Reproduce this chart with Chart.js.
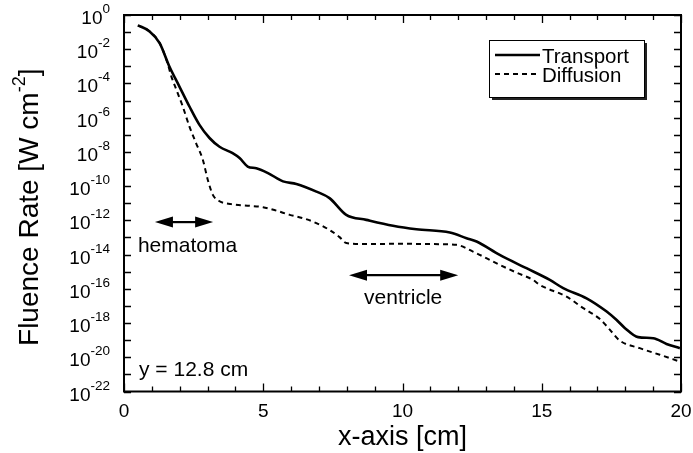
<!DOCTYPE html>
<html>
<head>
<meta charset="utf-8">
<script src="https://cdn.jsdelivr.net/npm/chart.js@4/dist/chart.umd.min.js"></script>
<style>
html,body{margin:0;padding:0;background:#fff;}
canvas{display:block;}
</style>
</head>
<body>
<canvas id="c" width="693" height="453"></canvas>
<script>
// ---- data ----
const transportX = [0.50, 0.92, 1.28, 1.63, 1.99, 2.35, 2.71, 3.07, 3.43, 3.90, 4.15, 4.44, 4.75, 5.17, 5.71, 6.19, 6.91, 7.38, 7.98, 8.70, 9.66, 10.50, 11.70, 12.30, 12.66, 13.49, 14.45, 15.29, 15.77, 16.61, 17.33, 17.69, 17.98, 18.46, 19.00, 19.48, 19.96];
const transportY = [2.5e-1, 1.1e-1, 2.3e-2, 9.8e-4, 6.6e-5, 4.5e-6, 3.8e-7, 6.5e-8, 2.0e-8, 8.5e-9, 4.4e-9, 1.4e-9, 1.1e-9, 5.8e-10, 1.9e-10, 1.35e-10, 4.8e-11, 2.0e-11, 2.1e-12, 1.07e-12, 4.8e-13, 3.0e-13, 1.95e-13, 9.1e-14, 5.8e-14, 9.5e-15, 1.6e-15, 3.3e-16, 1.1e-16, 2.8e-17, 4.7e-18, 1.5e-18, 5.2e-19, 1.5e-19, 1.3e-19, 6.0e-20, 3.4e-20];
const diffusionX = [0.50, 0.92, 1.28, 1.55, 1.70, 1.88, 2.11, 2.35, 2.59, 2.83, 3.01, 3.19, 3.40, 3.85, 4.51, 4.99, 5.47, 5.95, 6.42, 6.78, 7.38, 7.74, 7.98, 8.70, 9.90, 11.10, 11.94, 12.53, 13.01, 13.49, 14.09, 14.69, 14.93, 15.89, 16.49, 17.09, 17.45, 17.80, 18.52, 19.24, 19.96];
const diffusionY = [2.5e-1, 1.1e-1, 2.3e-2, 1.8e-3, 2.6e-4, 4.3e-5, 4.5e-6, 3.0e-7, 3.2e-8, 3.5e-9, 2.3e-10, 3.1e-11, 1.4e-11, 8.9e-12, 7.1e-12, 5.9e-12, 3.7e-12, 2.1e-12, 1.35e-12, 8.5e-13, 2.75e-13, 1.05e-13, 4.7e-14, 4.1e-14, 4.3e-14, 4.1e-14, 3.7e-14, 1.5e-14, 6.2e-15, 2.5e-15, 8.9e-16, 3.3e-16, 1.7e-16, 3.5e-17, 7.4e-18, 1.7e-18, 4.0e-19, 9.5e-20, 3.4e-20, 1.4e-20, 5.6e-21];
const seriesNames = ['Transport', 'Diffusion'];
const xTickLabels = ['0', '5', '10', '15', '20'];
const xTickValues = [0, 5, 10, 15, 20];
const yTickExponents = ['0', '-2', '-4', '-6', '-8', '-10', '-12', '-14', '-16', '-18', '-20', '-22'];
const xTitle = 'x-axis [cm]';
const yTitleMain = 'Fluence Rate [W cm';
const yTitleSup = '-2';
const yTitleEnd = ']';
// annotations: arrow from x1 to x2 (cm) at level y, label at (tx cm, ty baseline value)
const hematoma = {text: 'hematoma', x1: 1.11, x2: 3.20, y: 7.9e-13, tx: 0.50, ty: 1.5e-14};
const ventricle = {text: 'ventricle', x1: 8.08, x2: 12.00, y: 6.3e-16, tx: 8.62, ty: 1.3e-17};
const positionNote = {text: 'y = 12.8 cm', tx: 0.54, ty: 8.0e-22};

const FONT = '"Liberation Sans", Arial, Helvetica, sans-serif';

function pts(xs, ys) { return xs.map((x, i) => ({x: x, y: ys[i]})); }

const decor = {
  id: 'decor',
  afterDraw(chart) {
    const ctx = chart.ctx;
    const a = chart.chartArea;
    const xs = chart.scales.x, ys = chart.scales.y;
    ctx.save();
    ctx.strokeStyle = '#000';
    ctx.fillStyle = '#000';
    // frame
    ctx.lineWidth = 2;
    ctx.strokeRect(a.left, a.top, a.right - a.left, a.bottom - a.top);
    // x ticks (inward, bottom and top)
    ctx.lineWidth = 1.3;
    for (let v = 0; v <= 20; v++) {
      const px = Math.round(xs.getPixelForValue(v)) + 0.5;
      const len = (v % 5 === 0) ? 8 : 5;
      ctx.beginPath();
      ctx.moveTo(px, a.bottom); ctx.lineTo(px, a.bottom - len);
      ctx.moveTo(px, a.top); ctx.lineTo(px, a.top + len);
      ctx.stroke();
    }
    // y ticks (inward, left and right) every decade
    for (let e = 0; e >= -22; e--) {
      const py = Math.round(ys.getPixelForValue(Math.pow(10, e))) + 0.5;
      const len = 7;
      ctx.beginPath();
      ctx.moveTo(a.left, py); ctx.lineTo(a.left + len, py);
      ctx.moveTo(a.right, py); ctx.lineTo(a.right - len, py);
      ctx.stroke();
    }
    // x tick labels
    ctx.font = '19px ' + FONT;
    ctx.textAlign = 'center';
    ctx.textBaseline = 'middle';
    xTickValues.forEach((v, i) => {
      ctx.fillText(xTickLabels[i], xs.getPixelForValue(v), a.bottom + 20);
    });
    // y tick labels with superscripts
    yTickExponents.forEach(ex => {
      const py = ys.getPixelForValue(Math.pow(10, Number(ex)));
      ctx.font = '13.5px ' + FONT;
      const sw = ctx.measureText(ex).width;
      ctx.font = '19px ' + FONT;
      const bw = ctx.measureText('10').width;
      const right = a.left - 14;
      ctx.textAlign = 'left';
      ctx.textBaseline = 'alphabetic';
      ctx.fillText('10', right - sw - bw, py + 9);
      ctx.font = '13.5px ' + FONT;
      ctx.fillText(ex, right - sw, py - 2);
    });
    // axis titles
    ctx.font = '27px ' + FONT;
    ctx.textAlign = 'center';
    ctx.textBaseline = 'middle';
    ctx.fillText(xTitle, (a.left + a.right) / 2, 438);
    // y title rotated with superscript
    ctx.save();
    ctx.translate(28, (a.top + a.bottom) / 2 + 4);
    ctx.rotate(-Math.PI / 2);
    ctx.font = '28px ' + FONT;
    const w1 = ctx.measureText(yTitleMain).width;
    const w3 = ctx.measureText(yTitleEnd).width;
    ctx.font = '18px ' + FONT;
    const w2 = ctx.measureText(yTitleSup).width;
    const total = w1 + w2 + w3;
    let sx = -total / 2;
    ctx.textAlign = 'left';
    ctx.textBaseline = 'alphabetic';
    ctx.font = '28px ' + FONT;
    ctx.fillText(yTitleMain, sx, 10);
    ctx.font = '18px ' + FONT;
    ctx.fillText(yTitleSup, sx + w1, -3);
    ctx.font = '28px ' + FONT;
    ctx.fillText(yTitleEnd, sx + w1 + w2, 10);
    ctx.restore();

    // annotations
    function arrow(o) {
      const x1 = xs.getPixelForValue(o.x1), x2 = xs.getPixelForValue(o.x2);
      const y = ys.getPixelForValue(o.y);
      const hl = 18, hw = 5.5;
      ctx.lineWidth = 2.2;
      ctx.beginPath(); ctx.moveTo(x1 + hl - 2, y); ctx.lineTo(x2 - hl + 2, y); ctx.stroke();
      ctx.beginPath(); ctx.moveTo(x1, y); ctx.lineTo(x1 + hl, y - hw); ctx.lineTo(x1 + hl, y + hw); ctx.closePath(); ctx.fill();
      ctx.beginPath(); ctx.moveTo(x2, y); ctx.lineTo(x2 - hl, y - hw); ctx.lineTo(x2 - hl, y + hw); ctx.closePath(); ctx.fill();
    }
    arrow(hematoma); arrow(ventricle);
    ctx.font = '21px ' + FONT;
    ctx.textAlign = 'left';
    ctx.textBaseline = 'alphabetic';
    [hematoma, ventricle, positionNote].forEach(o => {
      ctx.fillText(o.text, xs.getPixelForValue(o.tx), ys.getPixelForValue(o.ty));
    });

    // legend box with shadow
    const bx = 489, by = 40, bw2 = 155, bh = 57;
    ctx.fillStyle = '#222';
    ctx.fillRect(bx + 3, by + 3, bw2, bh);
    ctx.fillStyle = '#fff';
    ctx.fillRect(bx, by, bw2, bh);
    ctx.lineWidth = 1;
    ctx.strokeStyle = '#000';
    ctx.strokeRect(bx + 0.5, by + 0.5, bw2, bh);
    ctx.fillStyle = '#000';
    ctx.font = '20.5px ' + FONT;
    chart.data.datasets.forEach((ds, i) => {
      const ly = by + 15 + i * 19;
      ctx.lineWidth = ds.borderWidth;
      ctx.setLineDash(ds.borderDash || []);
      ctx.beginPath(); ctx.moveTo(bx + 6, ly); ctx.lineTo(bx + 51, ly); ctx.stroke();
      ctx.setLineDash([]);
      ctx.textBaseline = 'middle';
      ctx.fillText(ds.label, bx + 53, ly + 2);
    });
    ctx.restore();
  }
};

new Chart(document.getElementById('c'), {
  type: 'line',
  data: {
    datasets: [
      {label: seriesNames[0], data: pts(transportX, transportY), borderColor: '#000', borderWidth: 2.6, pointRadius: 0, cubicInterpolationMode: 'monotone', fill: false},
      {label: seriesNames[1], data: pts(diffusionX, diffusionY), borderColor: '#000', borderWidth: 2, borderDash: [5, 4], pointRadius: 0, cubicInterpolationMode: 'monotone', fill: false}
    ]
  },
  options: {
    responsive: false,
    animation: false,
    devicePixelRatio: 1,
    layout: {padding: {left: 124, right: 12, top: 15, bottom: 61.5}},
    plugins: {legend: {display: false}, tooltip: {enabled: false}},
    scales: {
      x: {type: 'linear', min: 0, max: 20, display: false},
      y: {type: 'logarithmic', min: 1e-22, max: 1, display: false}
    }
  },
  plugins: [decor]
});
</script>
</body>
</html>
